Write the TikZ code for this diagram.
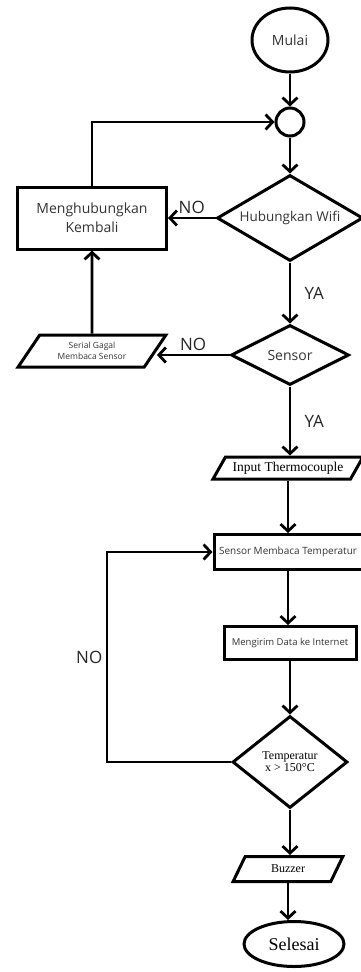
\documentclass[tikz,border=0pt]{standalone}
\usepackage{fontspec}
\setmainfont{Liberation Serif}
\setsansfont{Open Sans}
\usetikzlibrary{arrows.meta, shapes.geometric}

\begin{document}
\begin{tikzpicture}[x=1pt,y=1pt,->,>={Straight Barb[length=7pt,width=15pt]},line width=2.8pt,
  base node/.style={draw,line width=3pt,inner sep=0pt,align=center,text=black!80},
  term node/.style={base node,ellipse},
  proc node/.style={base node,rectangle},
  dec node/.style={base node,diamond},
  io node/.style={base node,trapezium,trapezium stretches=true},
  lbl/.style={font=\sffamily\fontsize{17}{17}\selectfont,text=black!85}]
  \useasboundingbox (0,0) rectangle (361,-972);

  \node[term node, minimum width=76pt, minimum height=64pt, font=\sffamily\fontsize{14}{16}\selectfont] (mulai) at (290,-40) {Mulai};
  \node[base node, circle, minimum size=28pt] (titik) at (290,-122) {};
  \node[dec node, minimum width=146pt, minimum height=86pt, shape aspect=1.75, font=\sffamily\fontsize{13.5}{16}\selectfont] (wifi) at (290,-218) {Hubungkan Wifi};
  \node[proc node, minimum width=149pt, minimum height=62pt, font=\sffamily\fontsize{14}{19}\selectfont] (kembali) at (92,-218) {Menghubungkan\\Kembali};
  \node[dec node, minimum width=118pt, minimum height=60pt, shape aspect=2, font=\sffamily\fontsize{14}{16}\selectfont] (sensor) at (290,-355) {Sensor};
  \node[io node, trapezium left angle=51, trapezium right angle=129, minimum width=148pt, minimum height=32pt, font=\sffamily\fontsize{8.5}{11}\selectfont] (gagal) at (92,-351) {Serial Gagal\\Membaca Sensor};
  \node[io node, trapezium left angle=48, trapezium right angle=132, minimum width=150pt, minimum height=22pt, text=black, font=\rmfamily\fontsize{13.5}{14}\selectfont] (input) at (288,-468) {Input Thermocouple};
  \node[proc node, minimum width=148pt, minimum height=35pt, font=\sffamily\fontsize{10}{12}\selectfont] (baca) at (288,-552) {Sensor Membaca Temperatur};
  \node[proc node, minimum width=132pt, minimum height=33pt, font=\sffamily\fontsize{9.5}{12}\selectfont] (kirim) at (290,-643) {Mengirim Data ke Internet};
  \node[dec node, minimum width=115pt, minimum height=92pt, shape aspect=1.25, text=black, font=\rmfamily\fontsize{12}{12}\selectfont] (suhu) at (290,-762) {Temperatur\\x > 150°C};
  \node[io node, trapezium left angle=59, trapezium right angle=121, minimum width=110pt, minimum height=25pt, text=black, font=\rmfamily\fontsize{12}{13}\selectfont] (buzzer) at (288,-869) {Buzzer};
  \node[term node, minimum width=100pt, minimum height=45pt, text=black, font=\rmfamily\fontsize{18}{20}\selectfont] (selesai) at (294,-944) {Selesai};
  \coordinate (kiri) at (107,-762);

  \path (mulai) edge (titik)
     (titik) edge (wifi)
     (wifi) edge node[lbl, above] {NO} (kembali)
     (wifi) edge node[lbl, right=10pt] {YA} (sensor)
     (gagal) edge (kembali)
     (sensor.south) edge node[lbl, right=10pt] {YA} (sensor.south |- input.north)
     (input.south) edge (input.south |- baca.north)
     (baca.south) edge (baca.south |- kirim.north)
     (kirim) edge (suhu)
     (suhu) edge (suhu.south |- buzzer.north)
     (buzzer.south) edge (buzzer.south |- selesai.north);
  \draw (sensor.west) -- node[lbl, above] {NO} (sensor.west -| gagal.east);
  \draw (kembali) |- (titik);
  \draw (suhu) -- (kiri) |- node[lbl, left, pos=0.25] {NO} (baca);
\end{tikzpicture}
\end{document}
